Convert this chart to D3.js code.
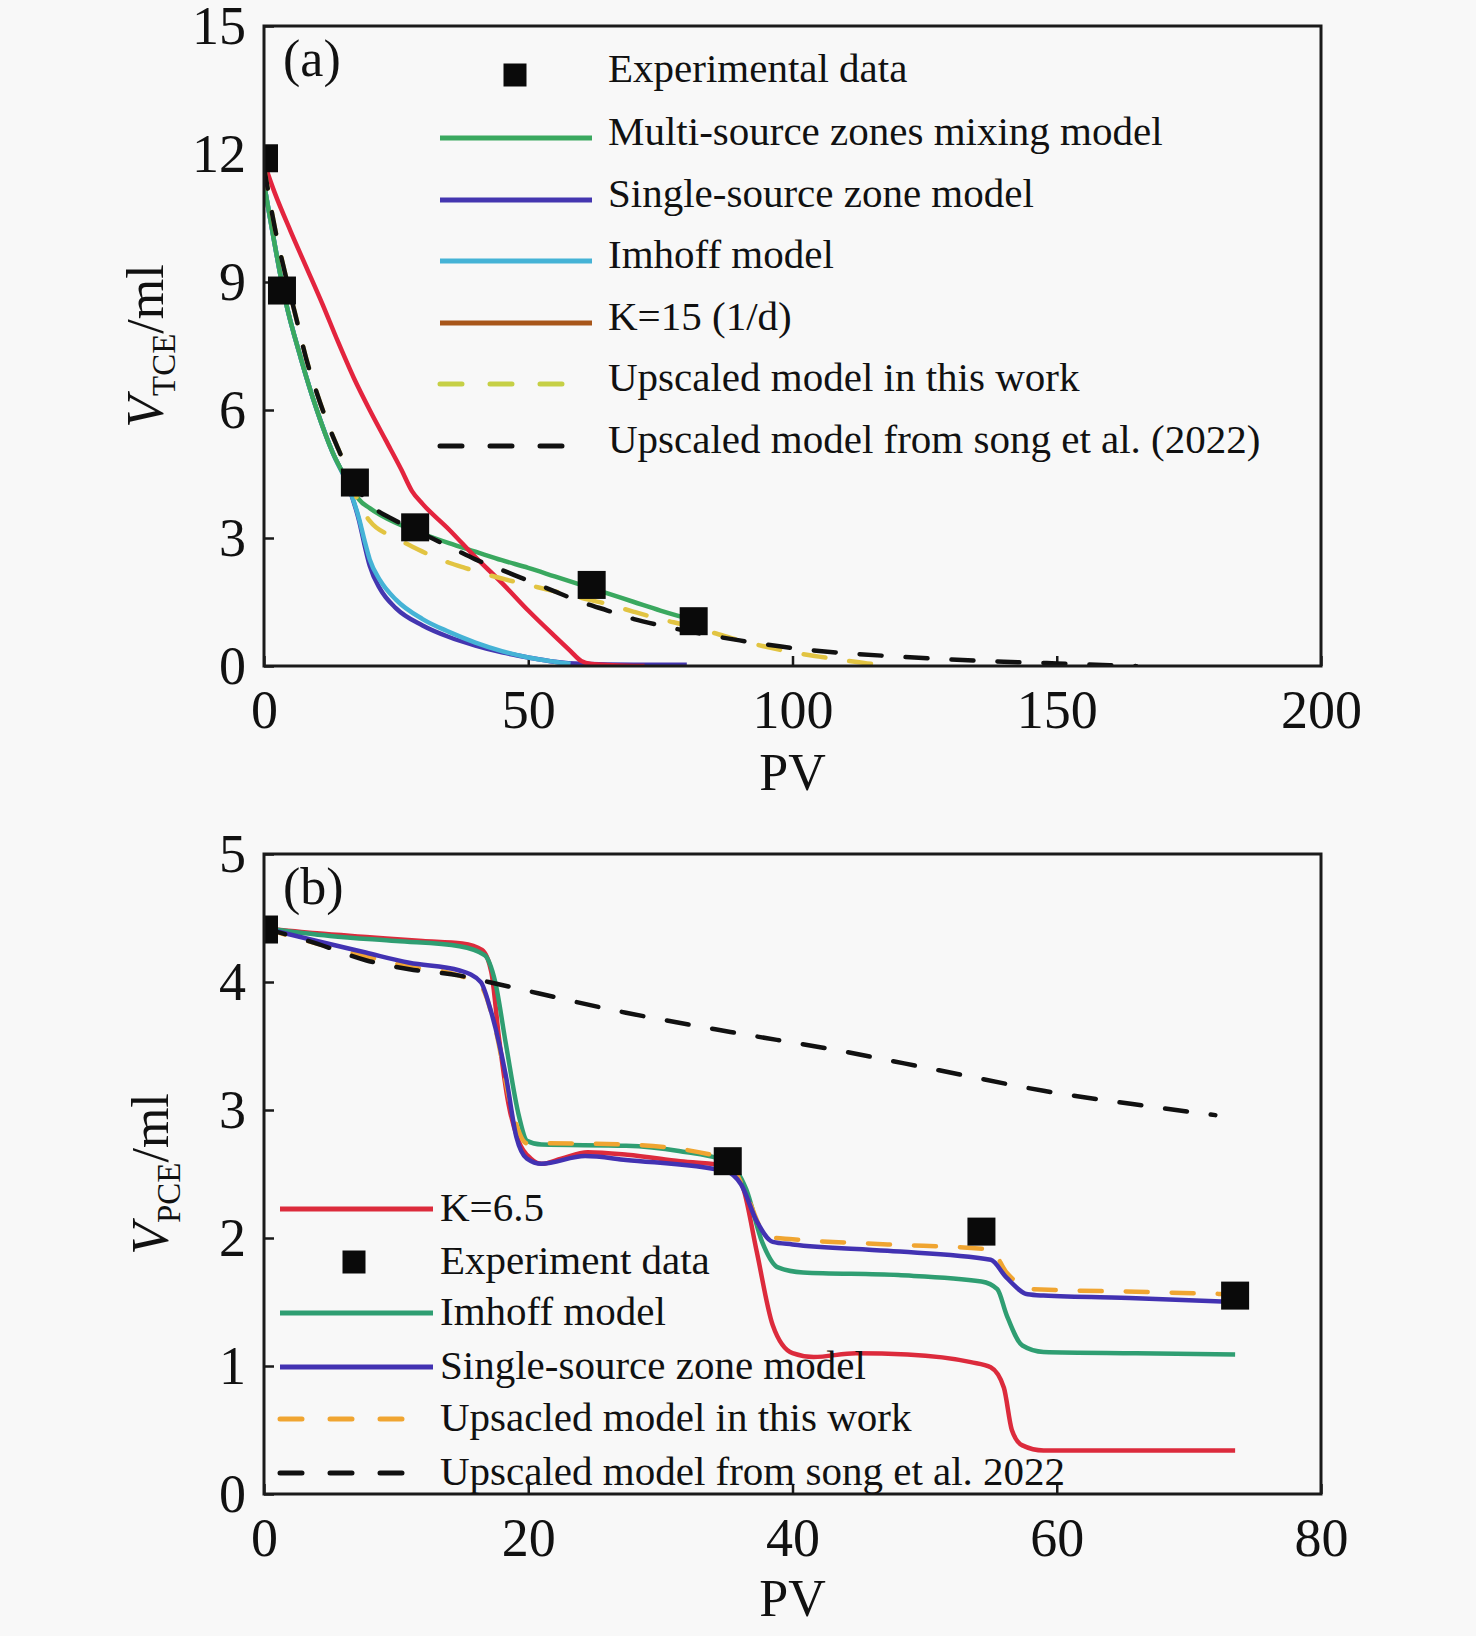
<!DOCTYPE html>
<html>
<head>
<meta charset="utf-8">
<script src="https://cdn.jsdelivr.net/npm/d3@7"></script>
<style>
  html, body { margin: 0; padding: 0; background: #f8f8f8; }
  svg { display: block; font-family: "Liberation Serif", "Times New Roman", serif; }
</style>
</head>
<body>
<div id="chart"></div>
<script>
// ---- panel (a): TCE ----
const expA_x = [0, 3.4, 17.2, 28.6, 62, 81.3];
const expA_y = [11.9, 8.8, 4.3, 3.25, 1.9, 1.05];

const multiA_x = [0, 2, 4, 7, 10, 13, 16, 17, 18, 20, 25, 30, 35, 40, 45, 50, 55, 60, 65, 70, 75, 82];
const multiA_y = [11.3, 9.9, 8.6, 7.2, 6.0, 5.0, 4.3, 4.1, 3.9, 3.7, 3.35, 3.1, 2.88, 2.68, 2.48, 2.3, 2.1, 1.9, 1.7, 1.5, 1.3, 1.05];

const singleA_x = [0, 2, 4, 7, 10, 13, 16, 18, 19, 20, 22, 25, 30, 35, 40, 45, 50, 55, 60, 70, 80];
const singleA_y = [11.3, 9.9, 8.6, 7.2, 6.0, 5.0, 4.2, 3.4, 2.85, 2.35, 1.8, 1.35, 0.95, 0.68, 0.48, 0.32, 0.2, 0.1, 0.05, 0.03, 0.03];

const imhoffA_x = [0, 2, 4, 7, 10, 13, 16, 18, 19, 20, 22, 25, 30, 35, 40, 45, 50, 55, 58];
const imhoffA_y = [11.3, 9.9, 8.6, 7.2, 6.0, 5.0, 4.2, 3.45, 2.95, 2.5, 2.0, 1.55, 1.1, 0.8, 0.55, 0.35, 0.2, 0.1, 0.05];

const kA_x = [0, 2, 5, 8, 11, 14, 17, 20, 23, 26, 28, 30, 35, 40, 45, 50, 55, 58, 60, 62, 66, 72];
const kA_y = [11.8, 11.1, 10.2, 9.35, 8.5, 7.6, 6.75, 6.0, 5.3, 4.6, 4.1, 3.8, 3.2, 2.55, 1.95, 1.3, 0.7, 0.35, 0.12, 0.05, 0.02, 0];

const upA_x = [0, 2, 4, 6, 8, 10, 12, 14, 16, 18, 20, 25, 28, 30, 35, 38, 45, 50, 55, 60, 65, 70, 75, 80, 85, 90, 95, 100, 105, 110, 115, 118];
const upA_y = [11.7, 10.3, 9.2, 8.2, 7.2, 6.4, 5.7, 5.1, 4.5, 3.8, 3.4, 3.0, 2.8, 2.68, 2.42, 2.3, 2.05, 1.9, 1.75, 1.6, 1.45, 1.27, 1.1, 0.95, 0.78, 0.6, 0.45, 0.32, 0.22, 0.13, 0.05, 0.02];

const songA_x = [0, 2, 4, 6, 8, 10, 12, 14, 16, 18, 20, 25, 30, 35, 40, 45, 50, 55, 60, 65, 70, 75, 80, 90, 100, 110, 120, 130, 140, 150, 160, 165];
const songA_y = [11.7, 10.3, 9.2, 8.2, 7.2, 6.4, 5.7, 5.1, 4.55, 4.1, 3.8, 3.4, 3.1, 2.8, 2.5, 2.25, 2.0, 1.75, 1.5, 1.3, 1.1, 0.95, 0.82, 0.6, 0.42, 0.3, 0.22, 0.15, 0.1, 0.06, 0.02, 0];

const ticksA_x = [0, 50, 100, 150, 200];
const ticksA_y = [0, 3, 6, 9, 12, 15];
const legendA = ["Experimental data", "Multi-source zones mixing model", "Single-source zone model",
  "Imhoff model", "K=15 (1/d)", "Upscaled model in this work", "Upscaled model from song et al. (2022)"];

// ---- panel (b): PCE ----
const expB_x = [0, 35.1, 54.3, 73.5];
const expB_y = [4.41, 2.6, 2.05, 1.55];

const kB_x = [0, 4, 8, 12, 15, 16.5, 17.2, 17.8, 18.5, 19.3, 20.2, 21, 22.5, 24.5, 27.5, 31.5, 35.3, 36.3, 37.3, 38.5, 40, 41.6, 44.8, 48.7, 53.5, 55, 56, 56.6, 57.4, 59, 66, 73.5];
const kB_y = [4.42, 4.38, 4.35, 4.32, 4.3, 4.25, 4.08, 3.55, 3.05, 2.75, 2.62, 2.58, 2.62, 2.67, 2.65, 2.6, 2.56, 2.38, 1.89, 1.32, 1.1, 1.07, 1.1, 1.09, 1.03, 0.99, 0.83, 0.5, 0.38, 0.34, 0.34, 0.34];

const imhoffB_x = [0, 5, 10, 14.8, 16.7, 17.5, 18.3, 19.3, 19.9, 21, 27.4, 31.4, 35, 36.5, 37.7, 38.9, 40.8, 48, 54.3, 55.5, 56.2, 57.4, 59, 66, 73.5];
const imhoffB_y = [4.42, 4.36, 4.32, 4.28, 4.21, 4.0, 3.52, 2.95, 2.76, 2.73, 2.72, 2.68, 2.6, 2.38, 1.97, 1.77, 1.73, 1.71, 1.66, 1.6, 1.4, 1.16, 1.11, 1.1, 1.09];

const singleB_x = [0, 4, 7.7, 11, 14.8, 16.4, 17.1, 18.3, 19.1, 19.9, 21, 24.3, 27.4, 35, 36.1, 37.3, 38.5, 40, 47.2, 55, 56.2, 57.8, 59, 66, 73.5];
const singleB_y = [4.42, 4.32, 4.23, 4.15, 4.09, 4.0, 3.8, 3.27, 2.79, 2.62, 2.58, 2.64, 2.61, 2.52, 2.42, 2.13, 1.97, 1.95, 1.9, 1.83, 1.69, 1.56, 1.55, 1.53, 1.5];

const upB_x = [0, 4, 7.7, 11, 14.8, 16.4, 17.5, 18.7, 19.9, 21, 27.4, 35, 36.5, 38.1, 40, 47.2, 55, 56.2, 58.2, 66, 73.5];
const upB_y = [4.42, 4.3, 4.2, 4.12, 4.05, 3.97, 3.64, 3.03, 2.74, 2.74, 2.73, 2.62, 2.34, 2.01, 1.99, 1.95, 1.91, 1.73, 1.6, 1.58, 1.56];

const songB_x = [0, 4, 7.7, 11, 14.8, 17, 27.4, 35.3, 43.2, 51.1, 59, 66.9, 72];
const songB_y = [4.42, 4.3, 4.17, 4.1, 4.05, 4.0, 3.76, 3.61, 3.47, 3.31, 3.15, 3.03, 2.96];

const ticksB_x = [0, 20, 40, 60, 80];
const ticksB_y = [0, 1, 2, 3, 4, 5];
const legendB = ["K=6.5", "Experiment data", "Imhoff model", "Single-source zone model",
  "Upsacled model in this work", "Upscaled model from song et al. 2022"];

const zip = (xs, ys) => xs.map((x, i) => [x, ys[i]]);

class MyLineChart {
    constructor(_config, _data) {
        this.config = _config;
        this.data = _data;
        this.initVis();
    }

    initVis() {
        let vis = this;
        const c = vis.config;

        vis.x = d3.scaleLinear().domain(c.xDomain).range([c.left, c.right]);
        vis.y = d3.scaleLinear().domain(c.yDomain).range([c.bottom, c.top]);

        vis.g = c.svg.append('g');

        vis.g.append('clipPath').attr('id', c.id + '-clip')
            .append('rect')
            .attr('x', c.left).attr('y', c.top)
            .attr('width', c.right - c.left).attr('height', c.bottom - c.top);

        // inward ticks, labels outside
        const fmt = d3.format('d');
        const xAxis = d3.axisBottom(vis.x).tickValues(c.xTicks).tickFormat(fmt)
            .tickSizeInner(-10).tickSizeOuter(0).tickPadding(24);
        const yAxis = d3.axisLeft(vis.y).tickValues(c.yTicks).tickFormat(fmt)
            .tickSizeInner(-10).tickSizeOuter(0).tickPadding(18);

        [vis.g.append('g').attr('transform', `translate(0,${c.bottom})`).call(xAxis),
         vis.g.append('g').attr('transform', `translate(${c.left},0)`).call(yAxis)]
            .forEach(ax => {
                ax.attr('font-family', null).attr('font-size', null);
                ax.select('.domain').remove();
                ax.selectAll('line').attr('stroke', '#1a1a1a').attr('stroke-width', 2.5);
                ax.selectAll('text').attr('fill', '#111').style('font-size', '54px');
            });

        const line = d3.line()
            .x(d => vis.x(d[0]))
            .y(d => vis.y(d[1]))
            .curve(d3.curveMonotoneX);

        const plot = vis.g.append('g').attr('clip-path', `url(#${c.id}-clip)`);

        plot.selectAll('path.series')
            .data(vis.data.series)
            .join('path')
            .attr('class', 'series')
            .attr('fill', 'none')
            .attr('stroke', d => d.color)
            .attr('stroke-width', 4.5)
            .attr('stroke-linecap', d => d.dash ? 'round' : 'butt')
            .attr('stroke-dasharray', d => d.dash || null)
            .attr('d', d => line(d.points));

        const s = 28;
        plot.selectAll('rect.exp')
            .data(vis.data.exp)
            .join('rect')
            .attr('class', 'exp')
            .attr('x', d => vis.x(d[0]) - s / 2)
            .attr('y', d => vis.y(d[1]) - s / 2)
            .attr('width', s).attr('height', s)
            .attr('fill', '#0a0a0a');

        // frame
        vis.g.append('rect')
            .attr('x', c.left).attr('y', c.top)
            .attr('width', c.right - c.left).attr('height', c.bottom - c.top)
            .attr('fill', 'none').attr('stroke', '#1a1a1a').attr('stroke-width', 3);

        vis.g.append('text')
            .attr('x', c.left + 19).attr('y', c.top + 50)
            .style('font-size', '52px').attr('fill', '#111')
            .text(c.panel);

        vis.g.append('text')
            .attr('x', (c.left + c.right) / 2).attr('y', c.xLabelY)
            .attr('text-anchor', 'middle')
            .style('font-size', '52px').attr('fill', '#111')
            .text('PV');

        const yl = vis.g.append('text')
            .attr('transform', `translate(${c.yLabelX},${(c.top + c.bottom) / 2}) rotate(-90)`)
            .attr('text-anchor', 'middle')
            .style('font-size', '52px').attr('fill', '#111');
        yl.append('tspan').style('font-style', 'italic').text('V');
        yl.append('tspan').attr('dy', 12).style('font-size', '33px').text(c.sub);
        yl.append('tspan').attr('dy', -12).text('/ml');

        vis.renderLegend();
    }

    renderLegend() {
        let vis = this;
        const lg = vis.config.legend;
        const g = vis.g.append('g');

        const rows = g.selectAll('g.row')
            .data(vis.data.legend)
            .join('g')
            .attr('class', 'row')
            .attr('transform', (d, i) => `translate(0,${lg.rows[i]})`);

        rows.filter(d => d.kind === 'square').append('rect')
            .attr('x', lg.square - 11.5).attr('y', -11.5)
            .attr('width', 23).attr('height', 23)
            .attr('fill', '#0a0a0a');

        rows.filter(d => d.kind === 'line').append('line')
            .attr('x1', lg.x1).attr('x2', d => d.dash ? lg.x1 + 130 : lg.x2)
            .attr('stroke', d => d.color)
            .attr('stroke-width', 5)
            .attr('stroke-linecap', d => d.dash ? 'round' : 'butt')
            .attr('stroke-dasharray', d => d.dash ? '22,28' : null);

        rows.append('text')
            .attr('x', lg.text).attr('y', lg.dy)
            .style('font-size', '41px').attr('fill', '#111')
            .text(d => d.label);
    }
}

const svg = d3.select('#chart').append('svg')
    .attr('width', 1476).attr('height', 1636);
svg.append('rect').attr('width', 1476).attr('height', 1636).attr('fill', '#f8f8f8');

const colA = { multi: '#3aa85f', single: '#4436b0', imhoff: '#45b3d6', k: '#e3243e', kLeg: '#a8561a', up: '#e2c442', upLeg: '#c6d046', song: '#111111' };
const colB = { k: '#dc2b3c', imhoff: '#2f9e72', single: '#4232b2', up: '#f0a531', song: '#111111' };

new MyLineChart({
    svg, id: 'a', panel: '(a)', sub: 'TCE',
    left: 264, right: 1321, top: 26, bottom: 666,
    xDomain: [0, 200], yDomain: [0, 15], xTicks: ticksA_x, yTicks: ticksA_y,
    xLabelY: 790, yLabelX: 163,
    legend: { rows: [75, 138, 200, 261, 323, 384, 446], x1: 440, x2: 592, square: 515, text: 608, dy: 7 }
}, {
    exp: zip(expA_x, expA_y),
    series: [
        { color: colA.single, points: zip(singleA_x, singleA_y) },
        { color: colA.imhoff, points: zip(imhoffA_x, imhoffA_y) },
        { color: colA.multi, points: zip(multiA_x, multiA_y) },
        { color: colA.k, points: zip(kA_x, kA_y) },
        { color: colA.up, dash: '22,24', points: zip(upA_x, upA_y) },
        { color: colA.song, dash: '22,24', points: zip(songA_x, songA_y) }
    ],
    legend: [
        { kind: 'square', label: legendA[0] },
        { kind: 'line', color: colA.multi, label: legendA[1] },
        { kind: 'line', color: colA.single, label: legendA[2] },
        { kind: 'line', color: colA.imhoff, label: legendA[3] },
        { kind: 'line', color: colA.kLeg, label: legendA[4] },
        { kind: 'line', color: colA.upLeg, dash: true, label: legendA[5] },
        { kind: 'line', color: colA.song, dash: true, label: legendA[6] }
    ]
});

new MyLineChart({
    svg, id: 'b', panel: '(b)', sub: 'PCE',
    left: 264, right: 1321, top: 854, bottom: 1494,
    xDomain: [0, 80], yDomain: [0, 5], xTicks: ticksB_x, yTicks: ticksB_y,
    xLabelY: 1616, yLabelX: 168,
    legend: { rows: [1209, 1262, 1313, 1367, 1419, 1473], x1: 280, x2: 433, square: 354, text: 440, dy: 12 }
}, {
    exp: zip(expB_x, expB_y),
    series: [
        { color: colB.k, points: zip(kB_x, kB_y) },
        { color: colB.imhoff, points: zip(imhoffB_x, imhoffB_y) },
        { color: colB.up, dash: '22,24', points: zip(upB_x, upB_y) },
        { color: colB.single, points: zip(singleB_x, singleB_y) },
        { color: colB.song, dash: '22,24', points: zip(songB_x, songB_y) }
    ],
    legend: [
        { kind: 'line', color: colB.k, label: legendB[0] },
        { kind: 'square', label: legendB[1] },
        { kind: 'line', color: colB.imhoff, label: legendB[2] },
        { kind: 'line', color: colB.single, label: legendB[3] },
        { kind: 'line', color: colB.up, dash: true, label: legendB[4] },
        { kind: 'line', color: colB.song, dash: true, label: legendB[5] }
    ]
});
</script>
</body>
</html>
